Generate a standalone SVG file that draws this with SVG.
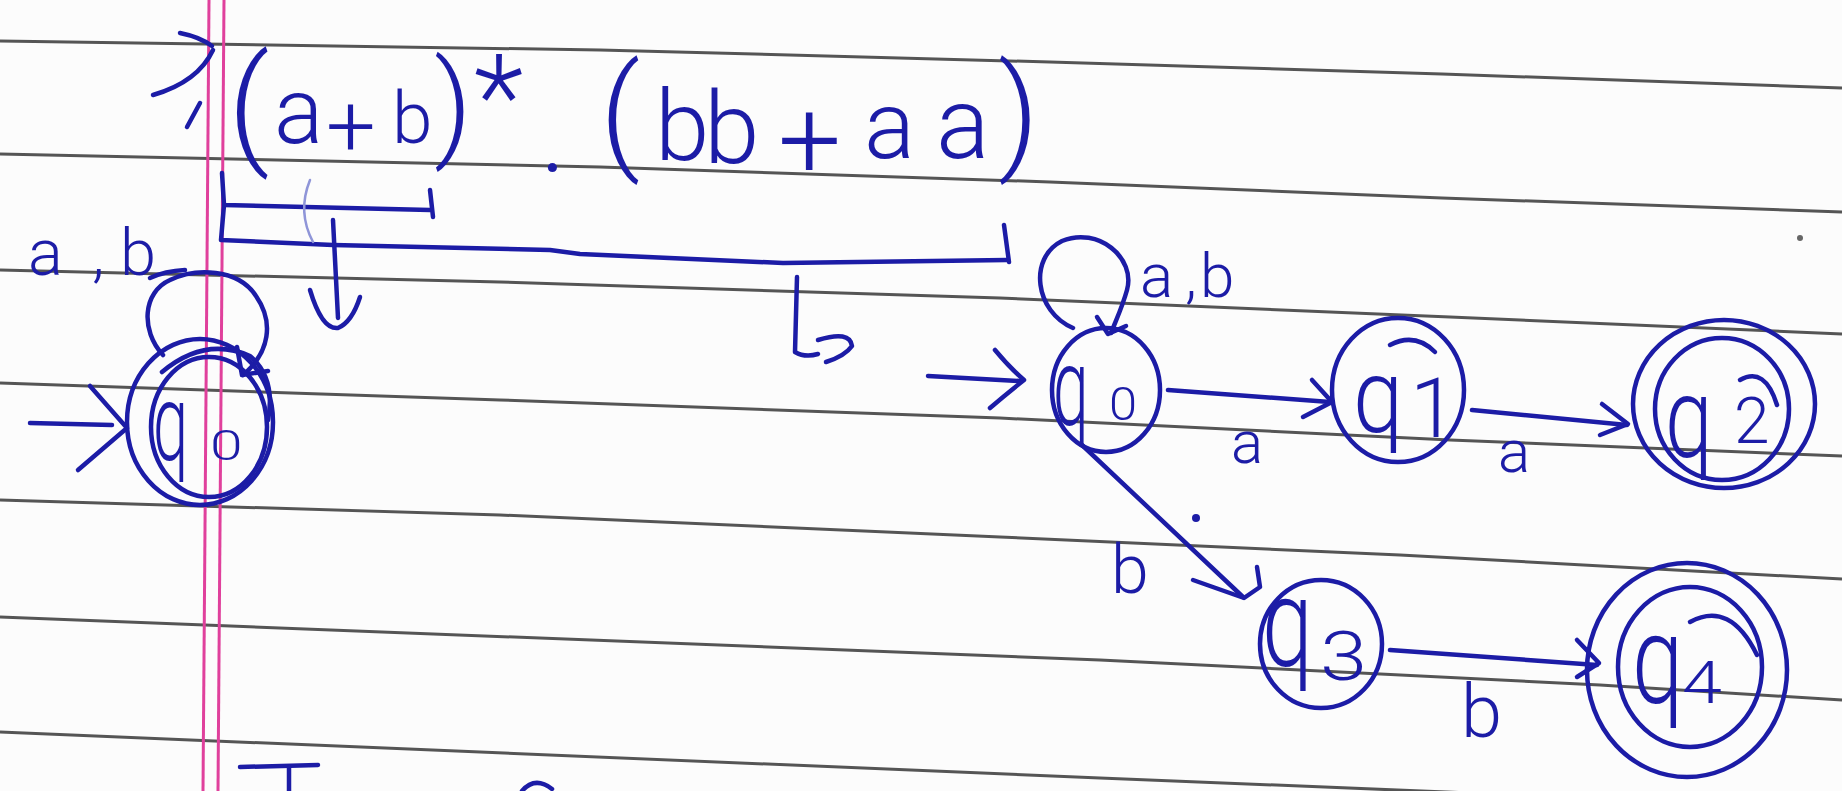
<svg xmlns="http://www.w3.org/2000/svg" width="1842" height="791" viewBox="0 0 1842 791">
<style>
.rule{fill:none;stroke:#555;stroke-width:3}
.margin{stroke:#e0409c;stroke-width:3}
.ink{fill:none;stroke:#1c1ca6;stroke-width:4.5;stroke-linecap:round;stroke-linejoin:round}
.faint{fill:none;stroke:#8f95d8;stroke-width:2.5;stroke-linecap:round}
.t{font-family:Roboto,"Liberation Sans",Arial,sans-serif;font-weight:300;fill:#1c1ca6}
</style>
<rect width="1842" height="791" fill="#fcfcfc"/>
<g id="paper">
<path class="rule" d="M0,41 L600,50 L1050,62 L1442,74 L1842,88"/>
<path class="rule" d="M0,154 L600,167 L1050,182 L1442,198 L1842,212"/>
<path class="rule" d="M0,270 L500,282 L1000,298 L1450,317 L1842,334"/>
<path class="rule" d="M0,383 L500,400 L1000,418 L1450,440 L1842,456"/>
<path class="rule" d="M0,500 L500,515 L1000,537 L1400,555 L1842,579"/>
<path class="rule" d="M0,617 L1100,660 L1600,685 L1842,700"/>
<path class="rule" d="M0,732 L1100,778 L1842,808"/>
<line class="margin" x1="209" y1="0" x2="203" y2="791"/>
<line class="margin" x1="224" y1="0" x2="218" y2="791"/>
<circle cx="1800" cy="238" r="3" fill="#666"/>
</g>
<g id="expression">
<path class="ink" d="M180,33 Q200,37 212,46"/>
<path class="ink" d="M213,50 Q198,82 153,95"/>
<path class="ink" d="M187,127 L200,103"/>
<text class="t"><tspan x="228" y="150" font-size="130">(</tspan><tspan x="274" y="143" font-size="92">a</tspan><tspan x="326" y="156" font-size="88">+</tspan><tspan x="392" y="143" font-size="73">b</tspan><tspan x="434" y="145" font-size="117">)</tspan><tspan x="474" y="137" font-size="116">*</tspan><tspan x="540" y="172" font-size="110">.</tspan></text>
<text class="t"><tspan x="600" y="156" font-size="126">(</tspan><tspan x="655" y="160" font-size="98">b</tspan><tspan x="704" y="163" font-size="100">b</tspan><tspan x="778" y="178" font-size="112">+</tspan><tspan x="864" y="158" font-size="95">a</tspan><tspan x="936" y="158" font-size="100">a</tspan><tspan x="998" y="156" font-size="126">)</tspan></text>
<path class="ink" d="M222,173 L224,205 L430,210"/>
<path class="ink" d="M430,190 L433,217"/>
<path class="ink" d="M224,205 L221,240 L333,245 L550,250 L580,254 L783,263 L1007,260"/>
<path class="ink" d="M1004,225 L1009,262"/>
<path class="faint" d="M310,180 Q297,212 313,242"/>
<path class="ink" d="M333,220 L338,318"/>
<path class="ink" d="M310,290 Q322,330 338,328 Q352,322 360,297"/>
<path class="ink" d="M797,277 L795,352 Q805,358 818,354"/>
<path class="ink" d="M818,340 Q850,330 852,346 Q845,356 826,362"/>
<path class="ink" d="M240,767 L318,765"/>
<path class="ink" d="M289,767 L289,791"/>
<path class="ink" d="M522,791 Q535,776 552,789"/>
</g>
<g id="connectors">
<path class="ink" d="M30,423 L112,425"/>
<path class="ink" d="M90,386 L127,428 L78,470"/>
<path class="ink" d="M163,355 C140,330 143,292 170,280 C195,268 238,268 256,296 C274,322 270,352 243,375"/>
<path class="ink" d="M150,278 Q165,271 185,270"/>
<path class="ink" d="M237,347 L242,375 L268,371"/>
<path class="ink" d="M928,376 L1020,381"/>
<path class="ink" d="M995,350 Q1010,368 1024,380 Q1005,395 990,408"/>
<path class="ink" d="M1073,328 C1035,312 1028,258 1062,241 C1098,226 1136,258 1127,290 C1122,308 1116,320 1111,333"/>
<path class="ink" d="M1097,317 L1108,334 L1126,326"/>
<path class="ink" d="M1168,390 L1330,402"/>
<path class="ink" d="M1312,380 L1332,402 L1303,417"/>
<path class="ink" d="M1472,410 L1627,425"/>
<path class="ink" d="M1602,404 L1628,424 L1600,435"/>
<path class="ink" d="M1082,445 L1243,597"/>
<path class="ink" d="M1193,580 L1244,598 L1260,587 L1257,567"/>
<circle cx="1196" cy="518" r="4" fill="#1c1ca6"/>
<path class="ink" d="M1390,650 L1597,665"/>
<path class="ink" d="M1577,640 L1599,663 L1577,677"/>
<text class="t" font-size="65" x="28 92 120" y="275">a,b</text>
<text class="t" font-size="62" x="1140 1185 1200" y="297">a,b</text>
<text class="t" font-size="60" x="1231" y="463">a</text>
<text class="t" font-size="60" x="1498" y="472">a</text>
<text class="t" font-size="68" x="1111" y="593">b</text>
<text class="t" font-size="74" x="1461" y="737">b</text>
</g>
<g id="node-left-q0">
<ellipse class="ink" cx="200" cy="422" rx="73" ry="83"/>
<ellipse class="ink" cx="209" cy="427" rx="58" ry="70"/>
<path class="ink" d="M162,372 Q205,336 250,356 Q276,378 268,420"/>
<text class="t" font-size="90" transform="translate(153,460) scale(0.7,1.2)">q</text>
<text class="t" font-size="42" transform="translate(210,460) scale(1.4,1)">0</text>
</g>
<g id="node-q0">
<ellipse class="ink" cx="1106" cy="390" rx="54" ry="62"/>
<text class="t" font-size="100" transform="translate(1053,425) scale(0.64,1.1)">q</text>
<text class="t" font-size="46" transform="translate(1109,420) scale(1.1,1)">0</text>
</g>
<g id="node-q1">
<ellipse class="ink" cx="1398" cy="390" rx="66" ry="72"/>
<path class="ink" d="M1390,345 Q1415,332 1435,352"/>
<text class="t" font-size="90" transform="translate(1353,432) scale(1,1.15)">q</text>
<text class="t" font-size="84" x="1410" y="437">1</text>
</g>
<g id="node-q2">
<ellipse class="ink" cx="1724" cy="404" rx="91" ry="84"/>
<ellipse class="ink" cx="1722" cy="409" rx="67" ry="71"/>
<path class="ink" d="M1740,380 Q1765,366 1777,405"/>
<text class="t" font-size="95" transform="translate(1665,457) scale(0.9,1.2)">q</text>
<text class="t" font-size="64" x="1734" y="443">2</text>
</g>
<g id="node-q3">
<ellipse class="ink" cx="1321" cy="644" rx="61" ry="64"/>
<text class="t" font-size="96" transform="translate(1262,666) scale(0.95,1.3)">q</text>
<text class="t" font-size="68" transform="translate(1320,680) scale(1.25,1)">3</text>
</g>
<g id="node-q4">
<ellipse class="ink" cx="1687" cy="670" rx="100" ry="107"/>
<ellipse class="ink" cx="1690" cy="667" rx="72" ry="80"/>
<path class="ink" d="M1690,622 Q1730,600 1757,655"/>
<text class="t" font-size="100" transform="translate(1632,703) scale(0.92,1.25)">q</text>
<text class="t" font-size="60" transform="translate(1682,703) scale(1.2,1)">4</text>
</g>
</svg>
